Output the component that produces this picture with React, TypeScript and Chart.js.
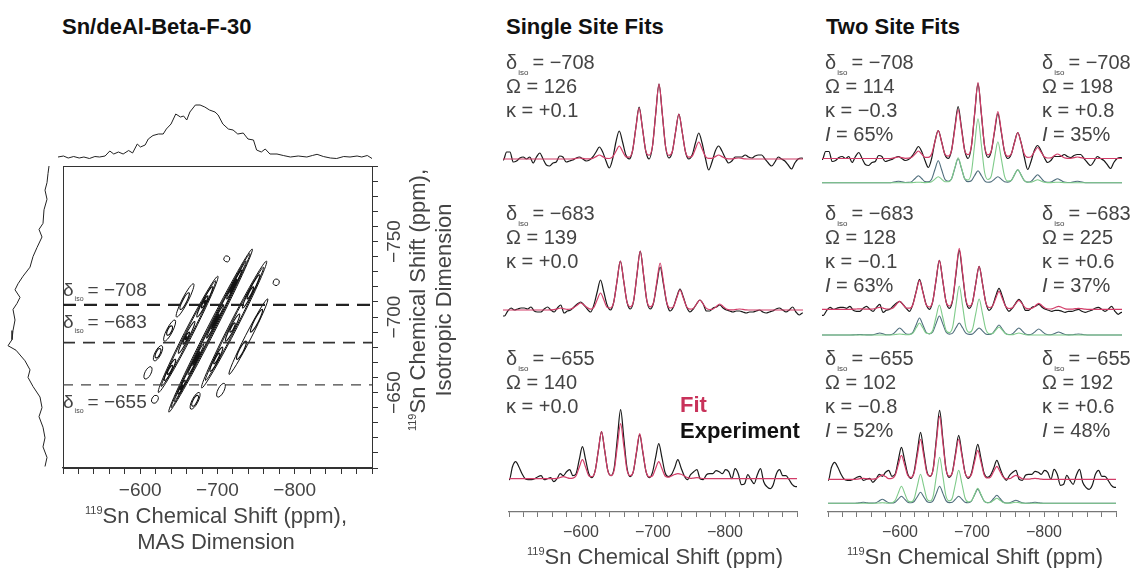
import React, { useEffect, useRef } from "react";
import { Chart, registerables } from "chart.js";
Chart.register(...registerables);

const FONT = '"Liberation Sans", Arial, Helvetica, sans-serif';
Chart.defaults.font.family = FONT;
const TEXT = "#444";
const FIT_COLOR = "#d23c68";
const EXP_COLOR = "#1a1a1a";
const SITE1_COLOR = "#7fcb8a";
const SITE2_COLOR = "#4f6d7c";

// ---------------- labels / parameters ----------------
const PANEL_TITLES = ["Sn/deAl-Beta-F-30", "Single Site Fits", "Two Site Fits"];
const SLICE_ISO = [-708, -683, -655];
const SINGLE_OMEGA = [126, 139, 140];
const SINGLE_KAPPA = ["+0.1", "+0.0", "+0.0"];
const SITE1_OMEGA = [114, 128, 102];
const SITE1_KAPPA = ["\u22120.3", "\u22120.1", "\u22120.8"];
const SITE1_INT = [65, 63, 52];
const SITE2_OMEGA = [198, 225, 192];
const SITE2_KAPPA = ["+0.8", "+0.6", "+0.6"];
const SITE2_INT = [35, 37, 48];
const MAS_TICK_LABELS = [-600, -700, -800];
const ISO_TICK_LABELS = [-650, -700, -750];

// ---------------- spectral sampling (ppm) ----------------
const SIDEBAND_SPACING = 26.5;
const GRID_STEP = SIDEBAND_SPACING / 6;
const GRID_COUNT = 93;
const GRID_START = [-496, -497.5, -496];

// ---------------- slice δiso = -708 ----------------
const EXP_708 = [
  0, -1, 7, 7, -3, -2, 1, 2, 0, 2, -4, 2, 6, 0, -6, -7, -4, -3, 3, 2, -3, -2, -1, 1,
  2, 0, -2, -1, 2, 7, 12, 7, -2, -9, 0, 17, 28, 17, 4, 0, 8, 31, 52, 31, 8, 0, 12, 45,
  75, 45, 12, 1, 7, 27, 45, 27, 7, 0, 4, 16, 26, 16, 1, -11, -3, 8, 13, 8, 1, -4, -2, 2,
  2, 2, 4, 2, 1, 3, 4, 4, 0, -4, -7, -3, 2, 0, -2, -6, -10, -4, 0, 1, 0,
];
const SINGLE_FIT_708 = [
  0, 0, 0, 0, 0, 0, 0, 0, 0, 0, 0, 0, 0, 0, 0, 0, 0, 0, 0, 0, 0, 0, 0.2, 0.6,
  1, 0.6, 0.2, 0.2, 0.6, 2.4, 4, 2.4, 0.6, 0.5, 2.1, 7.8, 13, 7.8, 2.1, 1.9, 8.2, 30.6, 51, 30.6, 8.2, 3.8, 12, 45,
  75, 45, 12, 3.6, 7.2, 27, 45, 27, 7.2, 1.9, 2.7, 10.2, 17, 10.2, 2.7, 0.6, 0.6, 2.4, 4, 2.4, 0.6, 0.2, 0.2, 0.6,
  1, 0.6, 0.2, 0, 0, 0, 0, 0, 0, 0, 0, 0, 0, 0, 0, 0, 0, 0, 0, 0, 0,
];
const TWO_FIT_708 = [
  0, 0, 0, 0, 0, 0, 0, 0, 0, 0, 0, 0, 0, 0, 0, 0, 0, 0, 0, 0, 0, 0, 0.2, 0.9,
  1.5, 0.9, 0.2, 0.3, 1.2, 4.5, 7.5, 4.5, 1.2, 1.1, 4.5, 16.8, 28, 16.8, 4.5, 2.3, 7.8, 29.4, 49, 29.4, 7.8, 3.8, 12.2, 45.6,
  76, 45.6, 12.2, 3.7, 7.5, 28.2, 47, 28.2, 7.5, 2.2, 4.2, 15.6, 26, 15.6, 4.2, 1.1, 1.8, 6.6, 11, 6.6, 1.8, 0.5, 0.7, 2.7,
  4.5, 2.7, 0.7, 0.2, 0.2, 0.9, 1.5, 0.9, 0.2, 0, 0, 0, 0, 0, 0, 0, 0, 0, 0, 0, 0,
];
const SITE1_708 = [
  0, 0, 0, 0, 0, 0, 0, 0, 0, 0, 0, 0, 0, 0, 0, 0, 0, 0, 0, 0, 0, 0, 0, 0,
  0, 0, 0, 0, 0.1, 0.3, 0.5, 0.3, 0.1, 0.2, 1, 3.6, 6, 3.6, 1, 0.9, 4, 15, 25, 15, 4, 2.7, 10.2, 38.4,
  64, 38.4, 10.2, 3.2, 6.6, 24.6, 41, 24.6, 6.6, 1.6, 2.1, 7.8, 13, 7.8, 2.1, 0.5, 0.5, 1.8, 3, 1.8, 0.5, 0.1, 0.1, 0.3,
  0.5, 0.3, 0.1, 0, 0, 0, 0, 0, 0, 0, 0, 0, 0, 0, 0, 0, 0, 0, 0, 0, 0,
];
const SITE2_708 = [
  0, 0, 0, 0, 0, 0, 0, 0, 0, 0, 0, 0, 0, 0, 0, 0, 0, 0, 0, 0, 0, 0, 0.2, 0.9,
  1.5, 0.9, 0.2, 0.3, 1.1, 4.2, 7, 4.2, 1.1, 0.9, 3.5, 13.2, 22, 13.2, 3.5, 1.4, 3.8, 14.4, 24, 14.4, 3.8, 1.1, 1.9, 7.2,
  12, 7.2, 1.9, 0.5, 1, 3.6, 6, 3.6, 1, 0.6, 2.1, 7.8, 13, 7.8, 2.1, 0.6, 1.3, 4.8, 8, 4.8, 1.3, 0.4, 0.6, 2.4,
  4, 2.4, 0.6, 0.2, 0.2, 0.9, 1.5, 0.9, 0.2, 0, 0, 0, 0, 0, 0, 0, 0, 0, 0, 0, 0,
];

// ---------------- slice δiso = -683 ----------------
const EXP_683 = [
  -6, -6, -1, 2, 0, 1, 2, 2, 1, 3, -1, -2, -2, 1, 3, 0, -2, 2, 5, -3, -1, 0, 3, 6,
  8, 5, 1, -2, 5, 18, 30, 18, 5, 0, 8, 29, 49, 29, 8, 1, 9, 35, 59, 35, 9, 1, 7, 26,
  43, 26, 7, -1, 3, 13, 21, 13, 3, -2, 1, 6, 10, 6, -1, -1, 2, 3, 5, 2, 0, -1, -2, -1,
  -1, -2, -3, -2, -2, -1, 0, -2, -3, -2, -1, 1, 2, 0, -2, 0, 3, -2, -5, -3, -3,
];
const SINGLE_FIT_683 = [
  0, 0, 0, 0, 0, 0, 0, 0, 0, 0, 0, 0, 0, 0, 0, 0.1, 0.3, 1.2, 2, 1.2, 0.6, 1, 2.5, 5,
  7, 5, 2.5, 0.8, 2.7, 10.2, 17, 10.2, 2.7, 2, 7.8, 29.4, 49, 29.4, 7.8, 3.2, 9.4, 35.4, 59, 35.4, 9.4, 3.2, 7.5, 28.2,
  47, 28.2, 7.5, 2, 3.2, 12, 20, 12, 3.2, 0.9, 1.6, 6, 10, 6, 1.6, 0.5, 1, 3.6, 6, 3.6, 1, 0.2, 0.2, 0.6,
  1, 0.6, 0.2, 0, 0, 0, 0, 0, 0, 0, 0, 0, 0, 0, 0, 0, 0, 0, 0, 0, 0,
];
const TWO_FIT_683 = [
  0, 0, 0, 0, 0, 0, 0, 0, 0, 0, 0.1, 0.3, 0.5, 0.3, 0.1, 0.1, 0.3, 1.2, 2, 1.2, 0.3, 0.3, 1.3, 4.8,
  8, 4.8, 1.3, 1.1, 4.6, 17.4, 29, 17.4, 4.6, 2.3, 7.8, 29.4, 49, 29.4, 7.8, 3.3, 9.8, 36.6, 61, 36.6, 9.8, 3.1, 6.9, 25.8,
  43, 25.8, 6.9, 1.8, 2.9, 10.8, 18, 10.8, 2.9, 0.8, 1.4, 5.4, 9, 5.4, 1.4, 0.5, 1, 3.6, 6, 3.6, 1, 0.3, 0.5, 1.8,
  3, 1.8, 0.5, 0.1, 0.2, 0.6, 1, 0.6, 0.2, 0, 0, 0, 0, 0, 0, 0, 0, 0, 0, 0, 0,
];
const SITE1_683 = [
  0, 0, 0, 0, 0, 0, 0, 0, 0, 0, 0, 0, 0, 0, 0, 0, 0, 0, 0, 0, 0, 0, 0.2, 0.6,
  1, 0.6, 0.2, 0.4, 1.9, 7.2, 12, 7.2, 1.9, 1.3, 4.8, 18, 30, 18, 4.8, 2.4, 7.8, 29.4, 49, 29.4, 7.8, 2.6, 5.8, 21.6,
  36, 21.6, 5.8, 1.3, 1.3, 4.8, 8, 4.8, 1.3, 0.3, 0.3, 1.2, 2, 1.2, 0.3, 0, 0, 0, 0, 0, 0, 0, 0, 0,
  0, 0, 0, 0, 0, 0, 0, 0, 0, 0, 0, 0, 0, 0, 0, 0, 0, 0, 0, 0, 0,
];
const SITE2_683 = [
  0, 0, 0, 0, 0, 0, 0, 0, 0, 0, 0.1, 0.3, 0.5, 0.3, 0.1, 0.1, 0.3, 1.2, 2, 1.2, 0.3, 0.3, 1.1, 4.2,
  7, 4.2, 1.1, 0.7, 2.7, 10.2, 17, 10.2, 2.7, 1.1, 3, 11.4, 19, 11.4, 3, 0.9, 1.9, 7.2, 12, 7.2, 1.9, 0.6, 1.1, 4.2,
  7, 4.2, 1.1, 0.5, 1.6, 6, 10, 6, 1.6, 0.5, 1.1, 4.2, 7, 4.2, 1.1, 0.4, 1, 3.6, 6, 3.6, 1, 0.3, 0.5, 1.8,
  3, 1.8, 0.5, 0.1, 0.2, 0.6, 1, 0.6, 0.2, 0, 0, 0, 0, 0, 0, 0, 0, 0, 0, 0, 0,
];

// ---------------- slice δiso = -655 ----------------
const EXP_655 = [
  0, -1, 12, 17, 12, 5, 0, -1, -1, 0, 2, 3, -1, 0, 1, -3, 0, 5, 3, 7, 9, 3, 5, 19,
  32, 19, 5, 1, 8, 28, 47, 28, 8, 3, 11, 41, 69, 41, 11, 2, 7, 26, 44, 26, 7, 1, 6, 21,
  35, 21, 6, 2, 4, 11, 19, 11, 3, -1, 4, 7, 9, 0, -1, 4, 5, 5, 8, 7, 5, 9, 7, 0,
  10, 5, -6, -5, 4, -1, -5, 4, 10, -3, -8, -10, -6, 5, 9, 3, 3, -1, -6, -8, -8,
];
const SINGLE_FIT_655 = [
  0, 0, 0, 0, 0, 0, 0, 0, 0, 0, 0, 0, 0, 0, 0, 0.1, 0.3, 1.2, 2, 1.2, 0.3, 0.6, 3, 11.4,
  19, 11.4, 3, 2, 7.5, 28.2, 47, 28.2, 7.5, 3.1, 8.8, 33, 55, 33, 8.8, 3, 7.2, 27, 45, 27, 7.2, 1.9, 2.7, 10.2,
  17, 10.2, 2.7, 1.5, 2.8, 4.2, 5, 4.4, 2.8, 1.2, 0.3, 0.6, 1, 0.6, 0.2, 0, 0, 0, 0, 0, 0, 0, 0, 0,
  0, 0, 0, 0, 0, 0, 0, 0, 0, 0, 0, 0, 0, 0, 0, 0, 0, 0, 0, 0, 0,
];
const TWO_FIT_655 = [
  0, 0, 0, 0, 0, 0, 0, 0, 0, 0, 0.2, 0.6, 1, 0.6, 0.2, 0.2, 0.7, 2.7, 4.5, 2.7, 0.7, 0.9, 3.8, 14.4,
  24, 14.4, 3.8, 1.9, 6.4, 24, 40, 24, 6.4, 3.1, 10.1, 37.8, 63, 37.8, 10.1, 3.1, 6.4, 24, 40, 24, 6.4, 2.1, 4.6, 17.4,
  29, 17.4, 4.6, 1.3, 2.1, 7.8, 13, 7.8, 2.1, 0.5, 0.6, 2.4, 4, 2.4, 0.6, 0.2, 0.2, 0.6, 1, 0.6, 0.2, 0, 0, 0,
  0, 0, 0, 0, 0, 0, 0, 0, 0, 0, 0, 0, 0, 0, 0, 0, 0, 0, 0, 0, 0,
];
const SITE1_655 = [
  0, 0, 0, 0, 0, 0, 0, 0, 0, 0, 0, 0, 0, 0, 0, 0, 0.1, 0.3, 0.5, 0.3, 0.1, 0.5, 2.7, 10.2,
  17, 10.2, 2.7, 1.4, 4.6, 17.4, 29, 17.4, 4.6, 2.3, 7.4, 27.6, 46, 27.6, 7.4, 2.4, 5.3, 19.8, 33, 19.8, 5.3, 1.4, 2.4, 9,
  15, 9, 2.4, 0.6, 0.8, 3, 5, 3, 0.8, 0.2, 0.2, 0.6, 1, 0.6, 0.2, 0, 0, 0, 0, 0, 0, 0, 0, 0,
  0, 0, 0, 0, 0, 0, 0, 0, 0, 0, 0, 0, 0, 0, 0, 0, 0, 0, 0, 0, 0,
];
const SITE2_655 = [
  0, 0, 0, 0, 0, 0, 0, 0, 0, 0, 0.2, 0.6, 1, 0.6, 0.2, 0.2, 0.6, 2.4, 4, 2.4, 0.6, 0.3, 1.1, 4.2,
  7, 4.2, 1.1, 0.5, 1.8, 6.6, 11, 6.6, 1.8, 0.8, 2.7, 10.2, 17, 10.2, 2.7, 0.7, 1.1, 4.2, 7, 4.2, 1.1, 0.6, 2.2, 8.4,
  14, 8.4, 2.2, 0.7, 1.3, 4.8, 8, 4.8, 1.3, 0.3, 0.5, 1.8, 3, 1.8, 0.5, 0.1, 0.2, 0.6, 1, 0.6, 0.2, 0, 0, 0,
  0, 0, 0, 0, 0, 0, 0, 0, 0, 0, 0, 0, 0, 0, 0, 0, 0, 0, 0, 0, 0,
];

const EXP = [EXP_708, EXP_683, EXP_655];
const SINGLE_FIT = [SINGLE_FIT_708, SINGLE_FIT_683, SINGLE_FIT_655];
const TWO_FIT = [TWO_FIT_708, TWO_FIT_683, TWO_FIT_655];
const SITE1 = [SITE1_708, SITE1_683, SITE1_655];
const SITE2 = [SITE2_708, SITE2_683, SITE2_655];

// ---------------- 2D projections ----------------
const PROJ_MAS_PPM = [-500,-507,-513,-520,-527,-533,-540,-547,-553,-560,-566,-571,-577,-583,-590,-595,-601,-605,-611,-615,-621,-628,-634,-638,-644,-650,-656,-660,-664,-668,-675,-681,-687,-693,-700,-704,-710,-717,-723,-729,-736,-742,-749,-753,-759,-764,-770,-779,-787,-796,-806,-817,-824,-830,-838,-847,-855,-864,-872,-881,-887,-894,-900];
const PROJ_MAS_INT = [0,1,-1,0.5,-1,0,-1.5,0.5,0,1,6,3,5,3,6.5,4,13,10,12,18,21.5,23,23,28,33,43,40,41,37,45,52,52,50,47,45,42,33,28,27,23,24,18,17,7,5,8,3,3,1.5,0,1,0,1.5,2.7,0.5,-1,-1.5,0.5,0,1,0,1.5,-1.5];
const PROJ_ISO_PPM = [-800,-795,-789,-784,-778,-771,-762,-758,-753,-746,-740,-733,-727,-722,-718,-713,-709,-705,-698,-691,-685,-681,-678,-671,-665,-660,-654,-647,-640,-634,-627,-620,-614,-607,-601];
const PROJ_ISO_INT = [0,1,2,4,2,5,6,10,7,12,16,19,26,31,34,29,32,36,34,36,37,41,33,24,19,21,16,9,7,10,6,4,6,2,4];

// contour islands: [sideband order, iso from, iso to, contour level]
const CONTOUR_ISLANDS = [
  [2, -722, -700, 2], [2, -698, -684, 2], [2, -681, -671, 2], [2, -667, -659, 2], [2, -716, -705, 3], [2, -694, -688, 3], [2, -679, -673, 3],
  [1, -727, -650, 1], [1, -724, -654, 2], [1, -720, -700, 3], [1, -697, -676, 3], [1, -672, -658, 3], [1, -714, -706, 4], [1, -690, -682, 4], [1, -668, -662, 4], [1, -711, -709, 5], [1, -687, -685, 5],
  [1, -648, -643, 2], [1, -740, -737, 2],
  [0, -745, -637, 1], [0, -742, -640, 2], [0, -737, -644, 3], [0, -731, -712, 4], [0, -708, -686, 4], [0, -682, -662, 4], [0, -658, -649, 4],
  [0, -725, -716, 5], [0, -702, -692, 5], [0, -677, -668, 5], [0, -655, -652, 5],
  [-1, -737, -653, 1], [-1, -733, -658, 2], [-1, -728, -706, 3], [-1, -702, -684, 3], [-1, -680, -664, 3], [-1, -720, -712, 4], [-1, -696, -690, 4], [-1, -676, -669, 4],
  [-1, -650, -639, 2], [-1, -648, -641, 3],
  [-2, -712, -662, 2], [-2, -705, -690, 3], [-2, -684, -672, 3], [-2, -656, -647, 2], [-2, -725, -721, 2],
];
const CONTOUR_HALF_WIDTH = [4.0, 3.0, 2.1, 1.3, 0.6];
const CONTOUR_LINE_WIDTH = [1, 1, 1.15, 1.25, 1.3];

const fmt = (v: number) => (v < 0 ? "\u2212" + Math.abs(v) : String(v));

const baseOptions = (scales: any) => ({
  animation: false,
  responsive: false,
  maintainAspectRatio: false,
  devicePixelRatio: 1,
  events: [],
  layout: { padding: 0 },
  plugins: { legend: { display: false }, tooltip: { enabled: false }, title: { display: false } },
  elements: { point: { radius: 0 } },
  scales,
});

const masAxis = (show: boolean, fontSize: number, tickLen: number, pad: number, height: number, color: string) =>
  show
    ? {
        type: "linear", min: -900, max: -500, reverse: true, position: "bottom", display: true,
        afterFit: (s: any) => { s.height = height; },
        border: { display: true, color, width: 1.2 },
        grid: { display: true, drawOnChartArea: false, drawTicks: true, tickLength: tickLen, color, tickColor: color, tickWidth: 1 },
        ticks: {
          stepSize: 20, autoSkip: false, maxRotation: 0, minRotation: 0, padding: pad, color: "#444",
          font: { family: FONT, size: fontSize },
          callback: (v: any) => (MAS_TICK_LABELS.includes(Number(v)) ? fmt(Number(v)) : ""),
        },
      }
    : { type: "linear", min: -900, max: -500, reverse: true, display: false };

function ChartCanvas({ left, top, width, height, build }: any) {
  const ref = useRef<HTMLCanvasElement>(null);
  useEffect(() => {
    const chart = new Chart(ref.current as any, build());
    return () => chart.destroy();
  }, []);
  return <canvas ref={ref} width={width} height={height} style={{ position: "absolute", left, top, width, height }} />;
}

function Spectrum({ left, top, width, height, slice, yRange, compRange, twoSite, axis }: any) {
  const build = () => {
    const xs = Array.from({ length: GRID_COUNT }, (_, i) => GRID_START[slice] - i * GRID_STEP);
    const ds = (vals: number[], color: string, w: number, axisId: string) => ({
      data: vals.map((v, i) => ({ x: xs[i], y: v })),
      borderColor: color, borderWidth: w, yAxisID: axisId, pointRadius: 0,
      cubicInterpolationMode: "monotone", fill: false,
    });
    const datasets = twoSite
      ? [
          ds(TWO_FIT[slice], FIT_COLOR, 1.2, "y"),
          ds(EXP[slice], EXP_COLOR, 1.2, "y"),
          ds(SITE1[slice], SITE1_COLOR, 1.1, "yc"),
          ds(SITE2[slice], SITE2_COLOR, 1.1, "yc"),
        ]
      : [ds(SINGLE_FIT[slice], FIT_COLOR, 1.2, "y"), ds(EXP[slice], EXP_COLOR, 1.2, "y")];
    const scales: any = {
      x: masAxis(!!axis, 16, 5, 6, 56, "#777"),
      y: { type: "linear", min: yRange[0], max: yRange[1], display: false },
    };
    if (twoSite) scales.yc = { type: "linear", min: compRange[0], max: compRange[1], display: false };
    return { type: "line", data: { datasets }, options: baseOptions(scales) };
  };
  return <ChartCanvas left={left} top={top} width={width} height={height} build={build} />;
}

function TopProjection() {
  const build = () => ({
    type: "line",
    data: { datasets: [{ data: PROJ_MAS_PPM.map((x, i) => ({ x, y: PROJ_MAS_INT[i] })), borderColor: "#222", borderWidth: 1, pointRadius: 0, tension: 0 }] },
    options: baseOptions({ x: masAxis(false, 0, 0, 0, 0, ""), y: { type: "linear", min: -3, max: 62, display: false } }),
  });
  return <ChartCanvas left={58} top={95} width={314} height={65} build={build} />;
}

function LeftProjection() {
  const build = () => ({
    type: "scatter",
    data: { datasets: [{ data: PROJ_ISO_PPM.map((y, i) => ({ x: PROJ_ISO_INT[i], y })), showLine: true, borderColor: "#222", borderWidth: 1, pointRadius: 0, tension: 0 }] },
    options: baseOptions({
      x: { type: "linear", min: -4, max: 44, reverse: true, display: false },
      y: { type: "linear", min: -800, max: -600, reverse: true, display: false },
    }),
  });
  return <ChartCanvas left={5} top={166} width={48} height={302} build={build} />;
}

const DASH_STYLES = [
  { w: 2.2, dash: [13, 8], color: "#222" },
  { w: 1.8, dash: [12, 8], color: "#333" },
  { w: 1.2, dash: [10, 8], color: "#444" },
];

function Contour2D() {
  const build = () => {
    const contourPlugin = {
      id: "contours",
      beforeDatasetsDraw(chart: any) {
        const { ctx, chartArea: a, scales } = chart;
        const xs = scales.x, ys = scales.y;
        ctx.save();
        ctx.beginPath();
        ctx.rect(a.left, a.top, a.right - a.left, a.bottom - a.top);
        ctx.clip();
        ctx.strokeStyle = "#111";
        for (const [n, from, to, lvl] of CONTOUR_ISLANDS) {
          const x1 = xs.getPixelForValue(from + n * SIDEBAND_SPACING), y1 = ys.getPixelForValue(from);
          const x2 = xs.getPixelForValue(to + n * SIDEBAND_SPACING), y2 = ys.getPixelForValue(to);
          const w = CONTOUR_HALF_WIDTH[lvl - 1];
          const len = Math.max(Math.hypot(x2 - x1, y2 - y1) / 2, w);
          ctx.lineWidth = CONTOUR_LINE_WIDTH[lvl - 1];
          ctx.beginPath();
          ctx.ellipse((x1 + x2) / 2, (y1 + y2) / 2, len, w, Math.atan2(y2 - y1, x2 - x1), 0, Math.PI * 2);
          ctx.stroke();
        }
        ctx.restore();
        ctx.save();
        ctx.strokeStyle = "#333";
        ctx.lineWidth = 1;
        ctx.strokeRect(a.left + 0.5, a.top + 0.5, a.right - a.left, a.bottom - a.top);
        ctx.restore();
      },
      afterDraw(chart: any) {
        const { ctx, chartArea: a, scales } = chart;
        ctx.save();
        ctx.fillStyle = "#444";
        ctx.font = `19px ${FONT}`;
        ctx.textAlign = "center";
        ctx.textBaseline = "middle";
        for (const v of ISO_TICK_LABELS) {
          const y = scales.y.getPixelForValue(v);
          ctx.save();
          ctx.translate(a.right + 23, y);
          ctx.rotate(-Math.PI / 2);
          ctx.fillText(fmt(v), 0, 0);
          ctx.restore();
        }
        ctx.restore();
      },
    };
    const datasets = SLICE_ISO.map((iso, i) => ({
      data: [{ x: -500, y: iso }, { x: -900, y: iso }],
      showLine: true, borderColor: DASH_STYLES[i].color, borderWidth: DASH_STYLES[i].w,
      borderDash: DASH_STYLES[i].dash, pointRadius: 0,
    }));
    return {
      type: "scatter",
      data: { datasets },
      options: baseOptions({
        x: masAxis(true, 19, 6, 5, 36, "#333"),
        y: {
          type: "linear", min: -800, max: -600, reverse: true, position: "right", display: true,
          afterFit: (s: any) => { s.width = 98; },
          border: { display: true, color: "#333", width: 1 },
          grid: { display: true, drawOnChartArea: false, drawTicks: true, tickLength: 6, color: "#333", tickColor: "#333" },
          ticks: { display: false, stepSize: 10 },
        },
      }),
      plugins: [contourPlugin],
    };
  };
  return <ChartCanvas left={58} top={166} width={412} height={338} build={build} />;
}

function Label({ x, y, size = 20, bold = false, color = TEXT, center = false, children }: any) {
  return (
    <div
      style={{
        position: "absolute", left: x, top: y - size * 0.5, fontFamily: FONT, fontSize: size,
        lineHeight: `${size}px`, fontWeight: bold ? 700 : 400, color, whiteSpace: "nowrap",
        transform: center ? "translateX(-50%)" : undefined,
      }}
    >
      {children}
    </div>
  );
}

const Delta = ({ v, sub = 8 }: any) => (
  <>
    δ<span style={{ fontSize: sub, position: "relative", top: sub * 0.75, marginLeft: 1, marginRight: 4 }}>iso</span>= {fmt(v)}
  </>
);
const Sup = ({ children }: any) => (
  <span style={{ fontSize: 11, position: "relative", top: -9 }}>{children}</span>
);

const ROW_Y = [62, 213, 358];
const GAP = 24;
const SINGLE_LAYOUT = [
  { top: 70, h: 110, y: [-21, 89] },
  { top: 225, h: 105, y: [-20, 85] },
  { top: 390, h: 178, y: [-33.3, 88.7], axis: true },
];
const TWO_LAYOUT = [
  { top: 70, h: 125, y: [-36.5, 88.5], yc: [-12.3, 112.7] },
  { top: 225, h: 120, y: [-35.7, 84.3], yc: [-10, 110] },
  { top: 390, h: 178, y: [-32.7, 89.3], yc: [-8.7, 113.3], axis: true },
];

const rotated = (cx: number, cy: number): any => ({
  position: "absolute", left: cx - 160, top: cy - 12, width: 320, height: 24, textAlign: "center",
  transform: "rotate(-90deg)", fontFamily: FONT, fontSize: 22, lineHeight: "24px", color: TEXT, whiteSpace: "nowrap",
});

export default function App() {
  return (
    <div style={{ position: "absolute", left: 0, top: 0, width: 1139, height: 568, background: "#fff", overflow: "hidden" }}>
      <TopProjection />
      <LeftProjection />
      <Contour2D />
      {SINGLE_LAYOUT.map((l, r) => (
        <Spectrum key={"s" + r} left={503} top={l.top} width={300} height={l.h} slice={r} yRange={l.y} axis={l.axis} />
      ))}
      {TWO_LAYOUT.map((l, r) => (
        <Spectrum key={"t" + r} left={822} top={l.top} width={300} height={l.h} slice={r} yRange={l.y} compRange={l.yc} twoSite axis={l.axis} />
      ))}

      <Label x={62} y={27} size={22} bold color="#111">{PANEL_TITLES[0]}</Label>
      <Label x={506} y={27} size={22} bold color="#111">{PANEL_TITLES[1]}</Label>
      <Label x={826} y={27} size={22} bold color="#111">{PANEL_TITLES[2]}</Label>

      <Label x={63} y={289} size={19} color="#444"><Delta v={SLICE_ISO[0]} sub={7} /></Label>
      <Label x={63} y={321} size={19} color="#444"><Delta v={SLICE_ISO[1]} sub={7} /></Label>
      <Label x={63} y={401} size={19} color="#444"><Delta v={SLICE_ISO[2]} sub={7} /></Label>

      <Label x={216} y={516} size={22} center><Sup>119</Sup>Sn Chemical Shift (ppm),</Label>
      <Label x={216} y={542} size={22} center>MAS Dimension</Label>
      <div style={rotated(418, 300)}><Sup>119</Sup>Sn Chemical Shift (ppm),</div>
      <div style={rotated(444, 300)}>Isotropic Dimension</div>

      {SLICE_ISO.map((iso, r) => (
        <React.Fragment key={"p" + r}>
          <Label x={506} y={ROW_Y[r]}><Delta v={iso} /></Label>
          <Label x={506} y={ROW_Y[r] + GAP}>Ω = {SINGLE_OMEGA[r]}</Label>
          <Label x={506} y={ROW_Y[r] + 2 * GAP}>κ = {SINGLE_KAPPA[r]}</Label>

          <Label x={825} y={ROW_Y[r]}><Delta v={iso} /></Label>
          <Label x={825} y={ROW_Y[r] + GAP}>Ω = {SITE1_OMEGA[r]}</Label>
          <Label x={825} y={ROW_Y[r] + 2 * GAP}>κ = {SITE1_KAPPA[r]}</Label>
          <Label x={825} y={ROW_Y[r] + 3 * GAP}><i>I</i> = {SITE1_INT[r]}%</Label>

          <Label x={1042} y={ROW_Y[r]}><Delta v={iso} /></Label>
          <Label x={1042} y={ROW_Y[r] + GAP}>Ω = {SITE2_OMEGA[r]}</Label>
          <Label x={1042} y={ROW_Y[r] + 2 * GAP}>κ = {SITE2_KAPPA[r]}</Label>
          <Label x={1042} y={ROW_Y[r] + 3 * GAP}><i>I</i> = {SITE2_INT[r]}%</Label>
        </React.Fragment>
      ))}

      <Label x={680} y={405} size={22} bold color="#c8325a">Fit</Label>
      <Label x={680} y={431} size={22} bold color="#111">Experiment</Label>

      <Label x={655} y={557} size={22} center><Sup>119</Sup>Sn Chemical Shift (ppm)</Label>
      <Label x={975} y={557} size={22} center><Sup>119</Sup>Sn Chemical Shift (ppm)</Label>
    </div>
  );
}
